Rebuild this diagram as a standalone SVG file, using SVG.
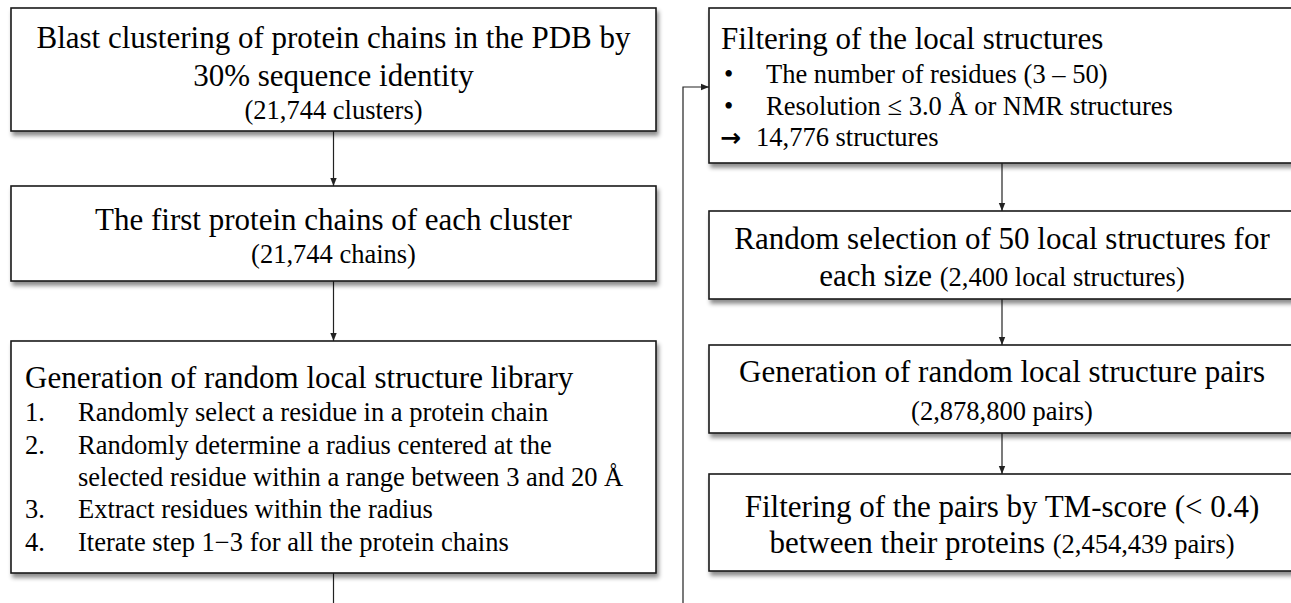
<svg xmlns="http://www.w3.org/2000/svg" width="1291" height="603" viewBox="0 0 1291 603">
<style>
text{font-family:"Liberation Serif","Times New Roman",serif;fill:#000}
.h{font-size:31px}
.s{font-size:26.5px}
.c{text-anchor:middle}
.arw{font-family:"DejaVu Sans",sans-serif;font-weight:bold;font-size:25px}
.box{fill:#fff;stroke:#1a1a1a;stroke-width:1.6;filter:url(#sh)}
.ln{fill:none;stroke:#222;stroke-width:1.2}
</style>
<defs>
<filter id="sh" x="-5%" y="-10%" width="115%" height="130%">
<feDropShadow dx="2" dy="4" stdDeviation="2.2" flood-color="#000" flood-opacity="0.45"/>
</filter>
<marker id="ar" viewBox="0 0 10 10" refX="10" refY="5" markerWidth="8" markerHeight="8" markerUnits="userSpaceOnUse" orient="auto">
<path d="M0,1 L10,5 L0,9 Z" fill="#222"/>
</marker>
</defs>
<rect width="1291" height="603" fill="#fff"/>

<g id="connectors">
<line class="ln" x1="333.5" y1="131" x2="333.5" y2="186" marker-end="url(#ar)"/>
<line class="ln" x1="333.5" y1="281" x2="333.5" y2="341" marker-end="url(#ar)"/>
<line class="ln" x1="333.5" y1="573" x2="333.5" y2="603"/>
<polyline class="ln" points="683,603 683,87 709,87" marker-end="url(#ar)"/>
<line class="ln" x1="1002" y1="163" x2="1002" y2="211" marker-end="url(#ar)"/>
<line class="ln" x1="1002" y1="299" x2="1002" y2="345" marker-end="url(#ar)"/>
<line class="ln" x1="1002" y1="433" x2="1002" y2="474" marker-end="url(#ar)"/>
</g>

<g id="n1">
<rect class="box" x="11" y="8" width="645" height="123"/>
<text class="h c" x="333.5" y="48">Blast clustering of protein chains in the PDB by</text>
<text class="h c" x="333.5" y="86">30% sequence identity</text>
<text class="s c" x="333.5" y="119">(21,744 clusters)</text>
</g>

<g id="n2">
<rect class="box" x="11" y="186" width="645" height="95"/>
<text class="h c" x="333.5" y="230">The first protein chains of each cluster</text>
<text class="s c" x="333.5" y="263">(21,744 chains)</text>
</g>

<g id="n3">
<rect class="box" x="11" y="341" width="645" height="232"/>
<text class="h" x="25" y="388">Generation of random local structure library</text>
<text class="s" x="25" y="421">1.</text>
<text class="s" x="78" y="421">Randomly select a residue in a protein chain</text>
<text class="s" x="25" y="454">2.</text>
<text class="s" x="78" y="454">Randomly determine a radius centered at the</text>
<text class="s" x="78" y="486">selected residue within a range between 3 and 20 Å</text>
<text class="s" x="25" y="518">3.</text>
<text class="s" x="78" y="518">Extract residues within the radius</text>
<text class="s" x="25" y="551">4.</text>
<text class="s" x="78" y="551">Iterate step 1−3 for all the protein chains</text>
</g>

<g id="n4">
<rect class="box" x="709" y="8" width="590" height="155"/>
<text class="h" x="721" y="49">Filtering of the local structures</text>
<text class="s" x="724" y="83">•</text>
<text class="s" x="766" y="83">The number of residues (3 – 50)</text>
<text class="s" x="724" y="115">•</text>
<text class="s" x="766" y="115">Resolution ≤ 3.0 Å or NMR structures</text>
<text class="s" x="720" y="146"><tspan class="arw">→</tspan><tspan x="756">14,776 structures</tspan></text>
</g>

<g id="n5">
<rect class="box" x="709" y="211" width="590" height="88"/>
<text class="h c" x="1002" y="249">Random selection of 50 local structures for</text>
<text class="c" x="1002" y="286"><tspan class="h">each size </tspan><tspan class="s">(2,400 local structures)</tspan></text>
</g>

<g id="n6">
<rect class="box" x="709" y="345" width="590" height="88"/>
<text class="h c" x="1002" y="382">Generation of random local structure pairs</text>
<text class="s c" x="1002" y="420">(2,878,800 pairs)</text>
</g>

<g id="n7">
<rect class="box" x="709" y="474" width="590" height="97"/>
<text class="h c" x="1002" y="517">Filtering of the pairs by TM-score (&lt; 0.4)</text>
<text class="c" x="1002" y="553"><tspan class="h">between their proteins </tspan><tspan class="s">(2,454,439 pairs)</tspan></text>
</g>
</svg>
